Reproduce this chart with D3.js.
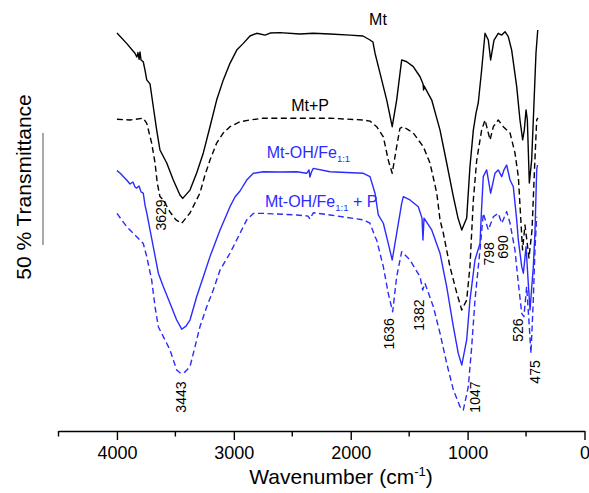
<!DOCTYPE html>
<html><head><meta charset="utf-8">
<script src="https://cdn.jsdelivr.net/npm/d3@7/dist/d3.min.js"></script>
<style>body{margin:0;background:#fff}svg{display:block}</style>
</head><body>
<svg id="c" width="589" height="493"></svg>
<script>
// Series: [wavenumber (cm-1), transmittance (% , offset)]
const mt = [[4000,177.2],[3917,172.6],[3846,168.2],[3830,166.5],[3820,168.5],[3810,165.5],[3803,168.8],[3794,165.2],[3775,164.4],[3760,160.7],[3745,156.3],[3717,154.5],[3689,144.3],[3660,133.9],[3632,125],[3574,119.2],[3518,111.6],[3461,104.9],[3437,103.4],[3375,107.1],[3318,114.7],[3261,123.7],[3204,135.4],[3147,147.3],[3090,156.3],[3033,163.7],[2975,169.6],[2919,172.6],[2862,175.9],[2804,177.1],[2733,176.3],[2690,177.2],[2605,177.4],[2435,176.8],[2322,177.1],[2177,176.8],[2006,176.3],[1895,175.9],[1835,174.1],[1810,173.2],[1792,168.2],[1750,159.4],[1692,147.3],[1645,135.4],[1607,147.3],[1564,165.2],[1521,164.4],[1465,162.2],[1407,157.7],[1381,154.5],[1377,151.8],[1373,153.6],[1307,147.3],[1236,133.9],[1179,119.2],[1122,104.2],[1082,94.6],[1050,89.3],[1008,94.6],[980,117.5],[951,133.9],[928,141.5],[909,146.0],[880,160.7],[851,177.1],[823,174.1],[803,165.2],[774,174.1],[738,177.1],[708,176.3],[680,177.8],[652,175.6],[623,169.6],[580,153.3],[552,138.4],[529,129.5],[515,133.9],[500,142.9],[489,138.4],[472,110.3],[452,120.5],[438,138.4],[415,168.3],[400,178.6]];
const mtP = [[4000,138.7],[3888,138.4],[3775,139.2],[3745,136.9],[3703,128.1],[3674,119.2],[3655,110.3],[3632,104.2],[3603,102.7],[3546,97.3],[3495,93.8],[3446,92.3],[3375,96.9],[3290,105.8],[3247,113.8],[3204,120.5],[3147,128.1],[3090,132.6],[3033,135.4],[2947,137.6],[2862,138.4],[2750,139.2],[2462,139.2],[2177,139.2],[1895,138.4],[1835,137.9],[1778,135.4],[1721,130.9],[1679,120.5],[1645,114.6],[1607,126.5],[1579,134.7],[1550,135.4],[1465,132.6],[1379,126.5],[1322,119.2],[1264,105.8],[1236,93.8],[1208,87.9],[1151,72.9],[1093,61.2],[1050,53.6],[1008,58.0],[980,72.9],[951,102.7],[922,120.5],[880,133.9],[851,138.4],[823,132.6],[808,129.5],[780,135.4],[738,138.4],[695,135.4],[637,132.6],[595,123.7],[566,113.1],[530,80.4],[509,91.5],[475,76.8],[449,89.3],[428,116.1],[409,138.4],[398,139.3]];
const mtFe = [[4000,115.8],[3974,114.7],[3917,111.6],[3888,109.8],[3863,110.7],[3845,108.5],[3831,108.0],[3811,108.9],[3794,106.3],[3775,105.8],[3760,100.4],[3745,96.9],[3717,89.3],[3689,81.8],[3646,70.0],[3603,64.0],[3546,56.6],[3489,49.1],[3446,45.0],[3409,46.4],[3375,49.1],[3318,59.5],[3261,68.4],[3204,77.4],[3118,89.3],[3033,99.7],[2990,104.0],[2947,106.7],[2890,111.6],[2833,114.6],[2748,115.3],[2605,115.2],[2462,115.3],[2377,114.6],[2357,116.1],[2349,112.9],[2336,115.2],[2320,116.8],[2177,115.3],[1892,114.6],[1835,113.1],[1792,105.7],[1764,96.0],[1721,92.3],[1679,83.3],[1645,75.9],[1607,87.8],[1564,101.2],[1550,104.2],[1493,102.7],[1422,99.7],[1390,94.6],[1382,84.8],[1373,94.6],[1307,89.3],[1236,78.9],[1179,64.0],[1122,46.1],[1080,34.2],[1050,29.0],[1008,40.2],[980,58.0],[937,75.9],[894,83.3],[881,98.2],[866,113.1],[837,116.1],[803,105.7],[766,114.6],[738,116.1],[708,113.1],[689,116.1],[666,118.3],[637,111.6],[609,108.6],[580,93.8],[566,84.8],[537,72.9],[523,70.0],[500,81.8],[481,65.5],[466,53.6],[438,72.9],[424,87.8],[409,116.1],[402,118.3]];
const mtFeP = [[4000,96.7],[3917,90.8],[3831,86.3],[3775,83.3],[3745,77.4],[3703,67.0],[3674,55.0],[3646,46.1],[3589,40.2],[3546,35.7],[3489,26.8],[3455,25.3],[3418,25.9],[3375,28.3],[3332,37.2],[3290,46.1],[3232,55.0],[3176,62.5],[3118,71.4],[3033,78.9],[2947,87.8],[2890,93.8],[2833,96.7],[2748,96.7],[2462,96.0],[2365,95.5],[2349,94.2],[2320,97.0],[2177,96.0],[1892,93.8],[1835,92.3],[1792,86.3],[1778,84.8],[1721,72.9],[1679,61.0],[1641,52.8],[1607,68.4],[1564,79.6],[1493,75.9],[1407,68.4],[1384,62.5],[1365,65.5],[1293,55.0],[1236,43.2],[1179,29.8],[1122,17.9],[1065,10.4],[1037,8.9],[994,19.3],[965,37.2],[937,58.0],[894,80.4],[866,96.7],[823,89.3],[780,95.2],[738,96.7],[708,92.3],[666,97.5],[637,92.3],[595,80.4],[566,65.5],[537,52.1],[518,50.6],[495,64.0],[472,46.1],[458,34.2],[438,58.0],[424,80.4],[409,95.2]];

const xTicks = [4000, 3000, 2000, 1000, 0];
const xMinorTicks = [4500, 3500, 2500, 1500, 500];
const peakLabels = [["3629",3619,96],["3443",3448,14.7],["1636",1672,42.9],["1382",1416,51.3],["1047",937,14.7],["798",817,78.6],["690",697,81.7],["526",569,44.6],["475",424,25.9]];
// name, subscript, suffix, wavenumber pos, T pos, anchor
const seriesLabels = [["Mt","","",1767,180.8,"middle"],["Mt+P","","",2348,142.4,"middle"],["Mt-OH/Fe","1:1","",2719,121.4,"start"],["Mt-OH/Fe","1:1","+ P",2733,99.7,"start"]];
const scaleBar = [82.6, 132.6]; // 50 % transmittance

const BLUE = "#2b2bff";
const svg = d3.select("#c");
svg.append("rect").attr("width",589).attr("height",493).attr("fill","#fff");
const x = d3.scaleLinear().domain([4500, 0]).range([58.5, 584.5]);
const y = d3.scaleLinear().domain([0, 180]).range([430, 430 - 180*2.24]);
const font = "'Liberation Sans', Arial, sans-serif";

const line = d3.line().x(d => x(d[0])).y(d => y(d[1]));
const styles = [
  [mt, "#000", null], [mtP, "#000", "6,3.5"], [mtFe, BLUE, null], [mtFeP, BLUE, "6,3.5"]
];
styles.forEach(([data, col, dash]) => {
  svg.append("path").datum(data).attr("d", line).attr("fill","none")
    .attr("stroke", col).attr("stroke-width", 1.4).attr("stroke-linejoin","round")
    .attr("stroke-dasharray", dash);
});

// x axis
const axY = 431;
const ax = svg.append("g").attr("transform", `translate(0,${axY})`)
  .call(d3.axisBottom(x).tickValues(xTicks).tickSize(9).tickSizeOuter(0).tickPadding(6.2).tickFormat(d3.format("d")));
ax.select(".domain").attr("stroke","#000").attr("stroke-width",1.4);
ax.selectAll(".tick line").attr("stroke","#000").attr("stroke-width",1.4);
ax.selectAll(".tick text").attr("font-family", font).attr("font-size", 18).attr("fill","#000");
svg.append("g").attr("transform", `translate(0,${axY})`).selectAll("line").data(xMinorTicks).join("line")
  .attr("x1", d => x(d)).attr("x2", d => x(d)).attr("y1", 0).attr("y2", 5.5)
  .attr("stroke","#000").attr("stroke-width",1.4);

const title = svg.append("text").attr("x", 341).attr("y", 484).attr("text-anchor","middle")
  .attr("font-family", font).attr("font-size", 21).attr("fill","#000");
title.append("tspan").text("Wavenumber (cm");
title.append("tspan").attr("font-size", 13).attr("dy", -8).text("-1");
title.append("tspan").attr("dy", 8).text(")");

// y label and scale bar
svg.append("text").attr("transform","translate(24,187) rotate(-90)").attr("text-anchor","middle")
  .attr("dy","0.35em").attr("font-family", font).attr("font-size", 21).attr("fill","#000")
  .text("50 % Transmittance");
svg.append("line").attr("x1",43).attr("x2",43).attr("y1", y(scaleBar[0])).attr("y2", y(scaleBar[1]))
  .attr("stroke","#8c8c8c").attr("stroke-width",1.5);

// peak labels
svg.selectAll("text.pk").data(peakLabels).join("text").attr("class","pk")
  .attr("transform", d => `translate(${x(d[1])},${y(d[2])}) rotate(-90)`)
  .attr("text-anchor","middle").attr("dy","0.35em")
  .attr("font-family", font).attr("font-size", 14).attr("fill","#000").text(d => d[0]);

// series labels
seriesLabels.forEach((d, i) => {
  const t = svg.append("text").attr("x", x(d[3])).attr("y", y(d[4])).attr("text-anchor", d[5])
    .attr("font-family", font).attr("font-size", 16).attr("fill", i < 2 ? "#000" : BLUE);
  t.append("tspan").text(d[0]);
  if (d[1]) t.append("tspan").attr("font-size", 9.5).attr("dy", 4).text(d[1]);
  if (d[2]) t.append("tspan").attr("dy", -4).text(" " + d[2]);
});
</script>
</body></html>
